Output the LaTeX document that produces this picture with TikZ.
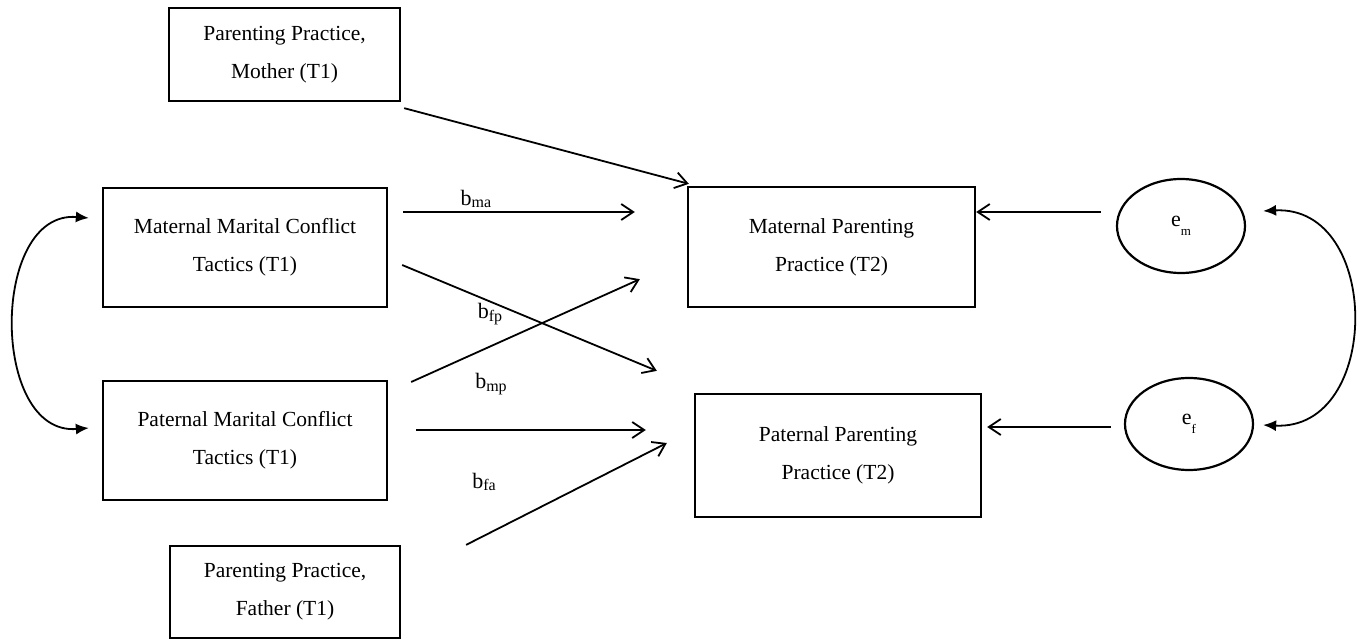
\documentclass[tikz,border=0pt]{standalone}
\usepackage{fontspec}
\setmainfont{Liberation Serif}
\usetikzlibrary{arrows.meta,calc,shapes.geometric}
\begin{document}
\begin{tikzpicture}[x=1pt,y=-1pt,
  box/.style={draw,line width=2.3pt,inner sep=0pt,align=center,font=\fontsize{21.5}{38}\selectfont},
  err/.style={draw,ellipse,line width=2.2pt,inner sep=0pt,font=\fontsize{22}{25}\selectfont},
  arr/.style={line width=1.8pt,-{Straight Barb[length=12pt,width=16pt,line width=1.8pt]}},
  cov/.style={line width=1.8pt,{Latex[length=13pt,width=11pt]}-{Latex[length=13pt,width=11pt]}},
  lab/.style={inner sep=0pt,font=\fontsize{22}{25}\selectfont}]
\useasboundingbox (0,0) rectangle (1360,639);
\node[box,minimum width=231pt,minimum height=93pt] (mom) at (284.5,54.5) {Parenting Practice,\\Mother (T1)};
\node[box,minimum width=284pt,minimum height=119pt] (mmct) at (245,247.5) {Maternal Marital Conflict\\Tactics (T1)};
\node[box,minimum width=284pt,minimum height=119pt] (pmct) at (245,440.5) {Paternal Marital Conflict\\Tactics (T1)};
\node[box,minimum width=230pt,minimum height=92pt] (dad) at (285,592) {Parenting Practice,\\Father (T1)};
\node[box,minimum width=287pt,minimum height=120pt] (mpp) at (831.5,247) {Maternal Parenting\\Practice (T2)};
\node[box,minimum width=286pt,minimum height=123pt] (ppp) at (838,455.5) {Paternal Parenting\\Practice (T2)};
\node[err,minimum width=128pt,minimum height=94pt] (em) at (1181,226) {e\raisebox{-0.9ex}{\fontsize{13}{15}\selectfont m}};
\node[err,minimum width=128pt,minimum height=92pt] (ef) at (1189,424) {e\raisebox{-0.9ex}{\fontsize{13}{15}\selectfont f}};
% labels
\node[lab] (lma) at (476,199) {b\raisebox{-0.25ex}{\fontsize{16}{18}\selectfont ma}};
\node[lab] (lfp) at (490,314) {b\raisebox{-0.25ex}{\fontsize{16}{18}\selectfont fp}};
\node[lab] (lmp) at (491,384) {b\raisebox{-0.25ex}{\fontsize{16}{18}\selectfont mp}};
\node[lab] (lfa) at (484,482) {b\raisebox{-0.25ex}{\fontsize{16}{18}\selectfont fa}};
% connectors
\draw[arr] ($(mom.south east)+(3,6)$) -- ($(mpp.north west)+(2,-2)$);
\draw[arr] ($(mmct.east)+(15,-35.5)$) -- ($(mpp.west)+(-52,-35)$);
\draw[arr] ($(mmct.east)+(14,17.5)$) -- ($(ppp.north west)+(-37,-22)$);
\draw[arr] ($(pmct.east)+(23,-58.5)$) -- ($(mpp.south west)+(-47,-29)$);
\draw[arr] ($(pmct.east)+(28,-10.5)$) -- ($(ppp.west)+(-48,-25.5)$);
\draw[arr] ($(dad.north east)+(65,0)$) -- ($(ppp.west)+(-27,-12.5)$);
\draw[arr] ($(em.west)+(-15,-14)$) -- ($(mpp.east)+(0,-35)$);
\draw[arr] ($(ef.west)+(-13,3)$) -- ($(ppp.east)+(5,-28.5)$);
\draw[cov] ($(em.east)+(17,-15)$) .. controls (1382,205) and (1382,431) .. ($(ef.east)+(9,1)$);
\draw[cov] ($(mmct.west)+(-13,-29.5)$) .. controls (-10,210) and (-10,436) .. ($(pmct.west)+(-13,-12.5)$);
\end{tikzpicture}
\end{document}
